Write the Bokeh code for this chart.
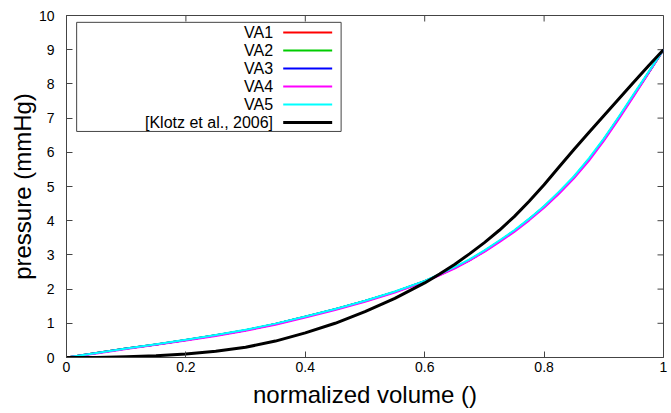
from bokeh.plotting import figure
from bokeh.models import Range1d, BoxAnnotation, FixedTicker, ColumnDataSource
from bokeh.core.properties import value
from bokeh.embed import file_html
from bokeh.resources import INLINE

# ---- data ----
volume = [0.0, 0.05, 0.10, 0.15, 0.20, 0.25, 0.30, 0.35, 0.40, 0.45, 0.50,
          0.55, 0.60, 0.625, 0.65, 0.675, 0.70, 0.725, 0.75, 0.775, 0.80,
          0.825, 0.85, 0.875, 0.90, 0.925, 0.95, 0.975, 1.0]
va1 = [0.0, 0.13, 0.26, 0.38, 0.51, 0.65, 0.80, 0.98, 1.19, 1.41, 1.65,
       1.92, 2.23, 2.42, 2.62, 2.85, 3.11, 3.40, 3.70, 4.04, 4.41,
       4.82, 5.27, 5.79, 6.37, 7.01, 7.67, 8.33, 9.0]
va2 = [0.0, 0.13, 0.26, 0.38, 0.51, 0.65, 0.80, 0.98, 1.19, 1.41, 1.65,
       1.92, 2.23, 2.42, 2.62, 2.85, 3.11, 3.40, 3.70, 4.04, 4.41,
       4.82, 5.27, 5.79, 6.37, 7.01, 7.67, 8.33, 9.0]
va3 = [0.0, 0.13, 0.26, 0.38, 0.51, 0.65, 0.80, 0.98, 1.19, 1.41, 1.65,
       1.92, 2.23, 2.42, 2.62, 2.85, 3.11, 3.40, 3.70, 4.04, 4.41,
       4.82, 5.27, 5.79, 6.37, 7.01, 7.67, 8.33, 9.0]
va4 = [0.0, 0.12, 0.25, 0.37, 0.50, 0.63, 0.78, 0.96, 1.17, 1.39, 1.63,
       1.90, 2.21, 2.40, 2.60, 2.83, 3.09, 3.37, 3.67, 4.01, 4.38,
       4.79, 5.24, 5.75, 6.33, 6.97, 7.63, 8.31, 9.0]
va5 = [0.0, 0.13, 0.26, 0.39, 0.52, 0.66, 0.81, 0.99, 1.20, 1.42, 1.66,
       1.93, 2.24, 2.44, 2.64, 2.87, 3.13, 3.42, 3.72, 4.06, 4.43,
       4.85, 5.30, 5.82, 6.40, 7.04, 7.70, 8.35, 9.0]
klotz = [0.0, 0.0, 0.02, 0.05, 0.10, 0.18, 0.30, 0.48, 0.72, 1.00, 1.34,
         1.73, 2.18, 2.44, 2.72, 3.03, 3.36, 3.72, 4.12, 4.57, 5.05,
         5.57, 6.08, 6.58, 7.07, 7.56, 8.05, 8.53, 9.0]

series_names = ["VA1", "VA2", "VA3", "VA4", "VA5", "[Klotz et al., 2006]"]
series_values = [va1, va2, va3, va4, va5, klotz]
series_colors = ["#ff0000", "#00cc00", "#0000ff", "#ff00ff", "#00ffff", "#000000"]
series_widths = [2, 2, 2, 2, 2, 3]

x_ticks = [0, 0.2, 0.4, 0.6, 0.8, 1.0]
y_ticks = [0, 1, 2, 3, 4, 5, 6, 7, 8, 9, 10]
x_lo, x_hi = 0.0, 1.0
y_lo, y_hi = 0.0, 10.0

FONT = "Liberation Sans"
AXC = "#444444"

FRAME_W, FRAME_H = 597, 342
p = figure(width=670, height=412, output_backend="svg", toolbar_location=None,
           x_range=Range1d(x_lo, x_hi), y_range=Range1d(y_lo, y_hi),
           min_border_left=66, min_border_right=7, min_border_top=15, min_border_bottom=55)
p.outline_line_color = AXC
p.outline_line_width = 1
p.outline_line_alpha = 1.0
p.grid.visible = False
p.background_fill_color = "white"
p.border_fill_color = "white"

for ax in (p.xaxis[0], p.yaxis[0]):
    ax.axis_line_color = AXC
    ax.major_tick_line_color = AXC
    ax.major_tick_in = 6
    ax.major_tick_out = 0
    ax.minor_tick_line_color = None
    ax.major_label_text_font = FONT
    ax.major_label_text_font_size = "14px"
    ax.major_label_text_color = "black"
    ax.axis_label_text_font = FONT
    ax.axis_label_text_font_size = "24px"
    ax.axis_label_text_font_style = "normal"
    ax.axis_label_text_color = "black"

p.xaxis[0].ticker = FixedTicker(ticks=x_ticks)
p.yaxis[0].ticker = FixedTicker(ticks=y_ticks)
p.xaxis[0].axis_label = "normalized volume ()"
p.yaxis[0].axis_label = "pressure (mmHg)"
p.xaxis[0].major_label_overrides = {0: "0", 1: "1"}
p.xaxis[0].major_label_standoff = 4
p.yaxis[0].major_label_standoff = 12
p.xaxis[0].axis_label_standoff = 6
p.yaxis[0].axis_label_standoff = 0

# mirrored tick marks on the top and right frame edges (gnuplot style)
tick_px = 6
dy = tick_px * (y_hi - y_lo) / FRAME_H
dx = tick_px * (x_hi - x_lo) / FRAME_W
p.segment(x0=x_ticks, y0=[y_hi] * len(x_ticks), x1=x_ticks, y1=[y_hi - dy] * len(x_ticks),
          line_color=AXC, line_width=1)
p.segment(x0=[x_hi] * len(y_ticks), y0=y_ticks, x1=[x_hi - dx] * len(y_ticks), y1=y_ticks,
          line_color=AXC, line_width=1)

for vals, col, w in zip(series_values, series_colors, series_widths):
    p.line(volume, vals, line_color=col, line_width=w, line_join="round")

# gnuplot-style key: box, right-aligned text, sample line to the right
p.add_layout(BoxAnnotation(left=0.017, right=0.460, top=9.80, bottom=6.61,
                           fill_color="white", fill_alpha=1.0,
                           line_color=AXC, line_alpha=1.0, line_width=1, level="underlay"))
n = len(series_names)
ky = [9.50 - i * 0.525 for i in range(n)]
src = ColumnDataSource(dict(x=[0.346] * n, y=ky, t=series_names))
p.text(x="x", y="y", text="t", source=src, text_align="right", text_baseline="middle",
       text_font=value(FONT), text_font_size="16px", text_color="black")
p.segment(x0=[0.363] * n, y0=ky, x1=[0.445] * n, y1=ky,
          line_color=series_colors, line_width=series_widths)

open("out.html", "w").write(file_html(p, INLINE))
